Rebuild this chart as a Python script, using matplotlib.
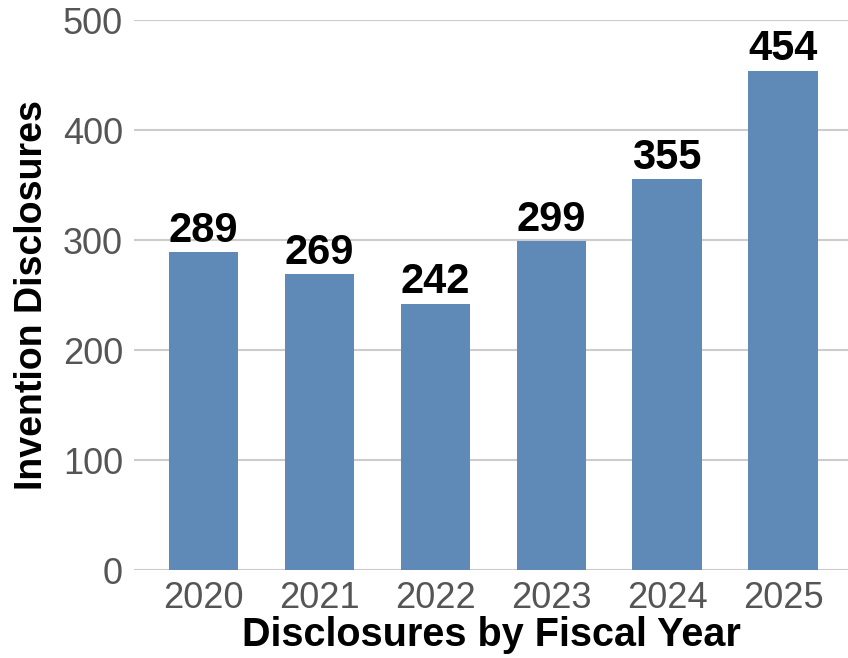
import matplotlib.pyplot as plt

# data
years = ['2020', '2021', '2022', '2023', '2024', '2025']
disclosures = [289, 269, 242, 299, 355, 454]

plt.rcParams['font.family'] = ['Liberation Sans', 'DejaVu Sans']

fig = plt.figure(figsize=(8.48, 6.58), dpi=100)
ax = fig.add_axes([134 / 848, 88 / 658, 1 - 134 / 848, 550 / 658])

bars = ax.bar(range(len(years)), disclosures, width=0.6, color='#5f8ab7', zorder=3)
ax.bar_label(bars, labels=[str(v) for v in disclosures], padding=1,
             fontsize=30, fontweight='bold', color='black')

ax.set_xlim(-0.6, 5.56)
ax.set_ylim(0, 500)
ax.set_yticks([0, 100, 200, 300, 400, 500])
ax.set_xticks(range(len(years)))
ax.set_xticklabels(years)
ax.grid(axis='y', color='#cccccc', linewidth=1.5, zorder=0)
for s in ax.spines.values():
    s.set_visible(False)
ax.tick_params(length=0, labelsize=26, labelcolor='#555555', pad=8)
for lab in ax.get_yticklabels():
    lab.set_clip_on(False)

ax.set_xlabel('Disclosures by Fiscal Year', fontsize=28.5, fontweight='bold', labelpad=0)
ax.set_ylabel('Invention Disclosures', fontsize=27, fontweight='bold', labelpad=9)

plt.savefig('out.png', dpi=100)
